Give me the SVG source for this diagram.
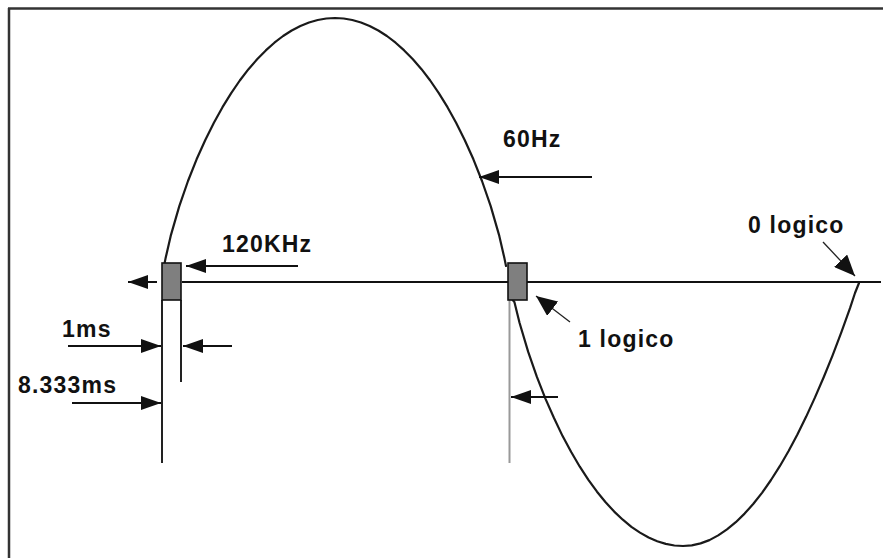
<svg xmlns="http://www.w3.org/2000/svg" width="883" height="558" viewBox="0 0 883 558">
<style>
.lbl{font-family:"Liberation Sans",Arial,sans-serif;font-weight:bold;font-size:23px;letter-spacing:1.2px;fill:#111}
.arr{stroke:#111;stroke-width:2;fill:none}
.thin{stroke:#222;stroke-width:1.3;fill:none}
.wave{stroke:#1a1a1a;stroke-width:2.2;fill:none;stroke-linejoin:round;stroke-linecap:round}
.box{fill:#7f7f7f;stroke:#111;stroke-width:1.6}
</style>
<defs>
<marker id="ah" markerUnits="userSpaceOnUse" markerWidth="22" markerHeight="14" refX="20" refY="7" orient="auto">
<path d="M0,0 L20,7 L0,14 z" fill="#111"/>
</marker>
<marker id="ah2" markerUnits="userSpaceOnUse" markerWidth="22" markerHeight="18" refX="21" refY="9" orient="auto">
<path d="M0,0 L21,9 L0,18 z" fill="#111"/>
</marker>
</defs>
<rect x="0" y="0" width="883" height="558" fill="#fff"/>
<g id="frame">
<line x1="8" y1="8.5" x2="883" y2="8.5" stroke="#333" stroke-width="2.5"/>
<line x1="9" y1="8" x2="9" y2="558" stroke="#333" stroke-width="2.5"/>
</g>
<g id="wave">
<path class="wave" d="M164,266 L165.5,258.6 L170.7,235.9 L179.3,206.1 L188,181 L196.6,159.3 L205.3,140 L213.9,122.7 L222.5,107.2 L231.2,93.1 L239.8,80.5 L248.5,69.2 L257.1,59.3 L265.8,50.4 L274.4,42.7 L283.1,36 L291.7,30.5 L300.4,26 L309,22.5 L317.7,20 L326.3,18.5 L335,18 L343.7,18.5 L352.3,20 L361,22.5 L369.6,26 L378.3,30.5 L386.9,36 L395.6,42.7 L404.2,50.4 L412.9,59.3 L421.5,69.2 L430.2,80.5 L438.8,93.1 L447.5,107.2 L456.1,122.7 L464.7,140 L473.4,159.3 L482,181 L490.7,206.1 L499.3,235.9 L504.5,258.6 L506,266"/>
<path class="wave" d="M511,298 L514.4,302 L519.6,323 L528.2,351.9 L536.8,376.7 L545.4,398.6 L554,418 L562.6,436.1 L571.2,452 L579.8,466.7 L588.4,479.8 L597,491.7 L605.6,502.2 L614.2,511.6 L622.8,519.7 L631.4,526.8 L640,532.6 L648.6,537.5 L657.2,541.2 L665.8,543.9 L674.4,545.5 L683,546 L691.8,545.3 L700.6,543.4 L709.4,540.1 L718.2,535.4 L727,529.4 L735.8,522.2 L744.6,513.6 L753.4,503.8 L762.2,492.6 L771,480 L779.8,466.2 L788.6,451 L797.4,434.5 L806.2,416.6 L815,397.4 L823.8,377 L832.6,355.3 L841.4,332.2 L850.2,307.7 L855,293 L859,283"/>
</g>
<g id="axis">
<line x1="182" y1="282" x2="881" y2="282" stroke="#111" stroke-width="2"/>
</g>
<g id="marker-lines">
<line x1="162" y1="300" x2="162" y2="463" stroke="#222" stroke-width="2"/>
<line x1="181" y1="300" x2="181" y2="382" stroke="#222" stroke-width="2"/>
<line x1="509.5" y1="300" x2="509.5" y2="463" stroke="#999" stroke-width="2"/>
</g>
<g id="box1"><rect class="box" x="162" y="263" width="19" height="37"/></g>
<g id="box2"><rect class="box" x="508" y="263" width="19" height="37"/></g>
<g id="connectors">
<line class="arr" x1="157" y1="282" x2="128" y2="282" marker-end="url(#ah)"/>
<line class="arr" x1="298" y1="266" x2="186" y2="266" marker-end="url(#ah)"/>
<line class="arr" x1="68" y1="346" x2="161" y2="346" marker-end="url(#ah)"/>
<line class="arr" x1="232" y1="346" x2="183" y2="346" marker-end="url(#ah)"/>
<line class="arr" x1="72" y1="403" x2="161" y2="403" marker-end="url(#ah)"/>
<line class="arr" x1="592" y1="177" x2="479" y2="177" marker-end="url(#ah)"/>
<line class="arr" x1="558" y1="397" x2="511" y2="397" marker-end="url(#ah)"/>
<line class="thin" x1="570" y1="322" x2="536" y2="296" marker-end="url(#ah2)"/>
<line class="thin" x1="823" y1="242" x2="855" y2="276" marker-end="url(#ah2)"/>
</g>
<g id="labels">
<text class="lbl" x="222" y="252">120KHz</text>
<text class="lbl" x="503" y="147">60Hz</text>
<text class="lbl" x="62" y="337">1ms</text>
<text class="lbl" x="18" y="393">8.333ms</text>
<text class="lbl" x="578" y="347">1 logico</text>
<text class="lbl" x="748" y="233">0 logico</text>
</g>
</svg>
